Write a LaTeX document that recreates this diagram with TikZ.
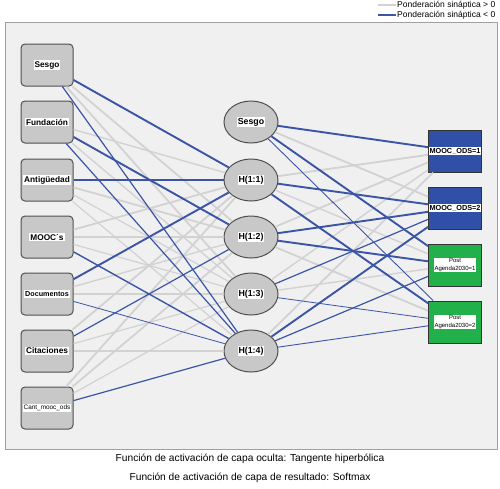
\documentclass[tikz,border=0pt]{standalone}
\usepackage{fontspec}
\setmainfont{Liberation Sans}
\usetikzlibrary{shapes.geometric}

\definecolor{panelbg}{HTML}{F0F0F0}
\definecolor{panelline}{HTML}{A0A0A0}
\definecolor{nodegray}{HTML}{C8C8C8}
\definecolor{nodeline}{HTML}{505050}
\definecolor{poscol}{HTML}{D2D2D2}
\definecolor{negcol}{HTML}{3A55A5}
\definecolor{odsblue}{HTML}{3050A8}
\definecolor{postgreen}{HTML}{22B04A}

\newcommand{\lbl}[1]{{\setlength{\fboxsep}{1pt}\colorbox{white}{#1}}}

\tikzset{
  inbox/.style={rectangle, rounded corners=4pt, draw=nodeline, fill=nodegray,
    minimum width=52pt, minimum height=42pt, inner sep=0pt, line width=1pt,
    font=\fontsize{8.3}{9}\selectfont\bfseries},
  hidnode/.style={ellipse, draw=nodeline, fill=nodegray, line width=1pt,
    minimum width=54pt, minimum height=42pt, inner sep=0pt,
    font=\fontsize{8.8}{9}\selectfont\bfseries},
  outbox/.style={rectangle, draw=black!80, line width=1pt, minimum width=53pt,
    minimum height=42pt, inner sep=0pt},
  gpos/.style={draw=poscol, line width=#1},
  gpos/.default=1.8,
  bneg/.style={draw=negcol, line width=#1},
  bneg/.default=1.9
}

\begin{document}
\begin{tikzpicture}[x=1pt,y=-1pt]
  \useasboundingbox (0,0) rectangle (500,488);
  \filldraw[fill=panelbg, draw=panelline, line width=1pt] (5,22) rectangle (497,449);

  % input layer
  \node[inbox] (sesgo)      at (47,65)  {\lbl{Sesgo}};
  \node[inbox] (fundacion)  at (47,122) {\lbl{Fundación}};
  \node[inbox] (antiguedad) at (47,180) {\lbl{Antigüedad}};
  \node[inbox] (moocs)      at (47,237) {\lbl{MOOC´s}};
  \node[inbox] (documentos) at (47,294) {\lbl{\fontsize{7.2}{8}\selectfont Documentos}};
  \node[inbox] (citaciones) at (47,351) {\lbl{Citaciones}};
  \node[inbox] (cant)       at (47,408) {\lbl{\fontsize{6.4}{7}\selectfont\mdseries Cant\_mooc\_ods}};

  % hidden layer
  \node[hidnode] (hsesgo) at (251,122) {\lbl{Sesgo}};
  \node[hidnode] (h1)     at (251,180) {\lbl{H(1:1)}};
  \node[hidnode] (h2)     at (251,237) {\lbl{H(1:2)}};
  \node[hidnode] (h3)     at (251,294) {\lbl{H(1:3)}};
  \node[hidnode] (h4)     at (251,351) {\lbl{H(1:4)}};

  % output layer
  \node[outbox,fill=odsblue]   (ods1)  at (455,151) {\lbl{\fontsize{7.3}{8}\selectfont\bfseries MOOC\_ODS=1}};
  \node[outbox,fill=odsblue]   (ods2)  at (455,208) {\lbl{\fontsize{7.3}{8}\selectfont\bfseries MOOC\_ODS=2}};
  \node[outbox,fill=postgreen] (post1) at (455,265) {\lbl{\fontsize{6}{6.4}\selectfont\shortstack{Post\\Agenda2030=1}}};
  \node[outbox,fill=postgreen] (post2) at (455,322) {\lbl{\fontsize{6}{6.4}\selectfont\shortstack{Post\\Agenda2030=2}}};

  % positive weights, input to hidden
  \path[gpos] (sesgo) edge (h2) edge (h3);
  \path[gpos=1.4] (fundacion) edge (h1) edge (h3);
  \path[gpos] (antiguedad) edge (h2) edge[gpos=1.2] (h3) edge[gpos=1.2] (h4);
  \path[gpos] (moocs) edge (h1) edge[gpos=1.2] (h2) edge[gpos=1.2] (h3);
  \path[gpos=1.4] (documentos) edge (h2) edge (h3);
  \path[gpos] (citaciones) edge (h1) edge[gpos=1.2] (h3) edge[gpos=1.4] (h4);
  \path[gpos] (cant) edge (h1) edge (h2) edge[gpos=1.2] (h3);

  % positive weights, hidden to output
  \path[gpos] (hsesgo) edge (ods2);
  \path[gpos] (h1) edge (ods1) edge[gpos=1.4] (post1);
  \path[gpos] (h2) edge (ods1) edge (post2);
  \path[gpos=1.4] (h3) edge (ods1) edge (post1);
  \path[gpos] (h4) edge (ods1);

  % negative weights, input to hidden
  \path[bneg] (sesgo) edge (h1) edge[bneg=1.2] (h4);
  \path[bneg] (fundacion) edge (h2) edge[bneg=1.2] (h4);
  \path[bneg] (antiguedad) edge (h1);
  \path[bneg=1.4] (moocs) edge (h4);
  \path[bneg] (documentos) edge (h1) edge[bneg=0.8] (h4);
  \path[bneg=1.2] (citaciones) edge (h2);
  \path[bneg=1.2] (cant) edge (h4);

  % negative weights, hidden to output
  \path[bneg] (hsesgo) edge (ods1) edge (post1) edge[bneg=0.9] (post2);
  \path[bneg] (h1) edge (ods2) edge (post2);
  \path[bneg] (h2) edge (ods2) edge (post1);
  \path[bneg=1.2] (h3) edge (ods2) edge[bneg=0.8] (post2);
  \path[bneg] (h4) edge (ods2) edge[bneg=1.2] (post1) edge[bneg=0.9] (post2);

  % legend
  \coordinate (legposstart) at (378,5);
  \coordinate (legnegstart) at (378,15);
  \node[anchor=west, inner sep=1pt, font=\fontsize{8.5}{9}\selectfont] (legpos) at (396,5)  {Ponderación sináptica > 0};
  \node[anchor=west, inner sep=1pt, font=\fontsize{8.5}{9}\selectfont] (legneg) at (396,15) {Ponderación sináptica < 0};
  \draw[gpos=1.2] (legposstart) -- (legpos);
  \draw[bneg=1.2] (legnegstart) -- (legneg);

  % activation functions
  \node[font=\fontsize{10.2}{11}\selectfont] (hidfun) at (250,459) {Función de activación de capa oculta: Tangente hiperbólica};
  \node[font=\fontsize{10.2}{11}\selectfont] (outfun) at (250,478) {Función de activación de capa de resultado: Softmax};
\end{tikzpicture}
\end{document}
